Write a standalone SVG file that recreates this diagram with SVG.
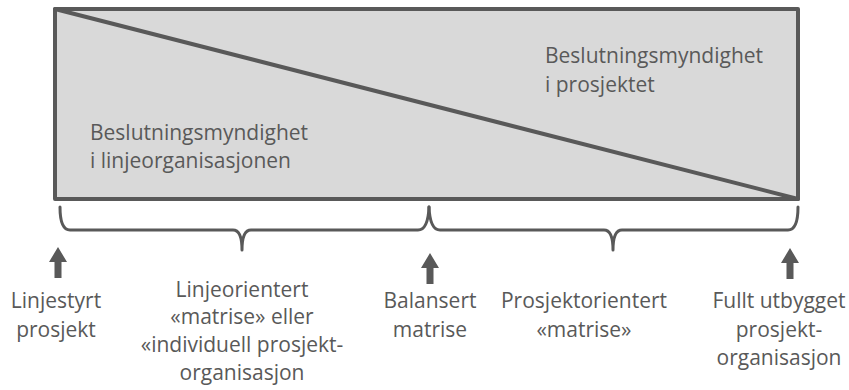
<svg xmlns="http://www.w3.org/2000/svg" width="849" height="390" viewBox="0 0 849 390">
  <defs>
    <style>
      .lbl { font-family: "Open Sans", "Liberation Sans", sans-serif; font-size: 21px; fill: #595959; }
      .mid { text-anchor: middle; }
      .frame { fill: #d9d9d9; stroke: #595959; stroke-width: 4; stroke-linejoin: round; }
      .line { fill: none; stroke: #595959; stroke-width: 4; stroke-linecap: round; }
      .brace { fill: none; stroke: #595959; stroke-width: 3; stroke-linecap: round; stroke-linejoin: round; }
      .arrow { fill: #595959; }
    </style>
    <path id="up-arrow" d="M0,0 L9,15 L3.5,15 L3.5,31 L-3.5,31 L-3.5,15 L-9,15 Z"/>
  </defs>
  <rect width="849" height="390" fill="#ffffff"/>

  <!-- authority split: box with diagonal -->
  <g id="authority-box">
    <rect class="frame" x="55" y="9" width="743" height="190"/>
    <line class="line" x1="55" y1="9" x2="798" y2="199"/>
    <text class="lbl" x="90" y="140">Beslutningsmyndighet</text>
    <text class="lbl" x="90" y="168">i linjeorganisasjonen</text>
    <text class="lbl" x="545" y="63">Beslutningsmyndighet</text>
    <text class="lbl" x="545" y="92">i prosjektet</text>
  </g>

  <!-- braces and arrows -->
  <g id="connectors">
    <path class="brace" d="M60,207 Q60,230 70,230 H233 Q242,230 242,250 Q242,230 251,230 H418 Q428,230 429,207"/>
    <path class="brace" d="M429,207 Q430,230 440,230 H604 Q613,230 613,250 Q613,230 622,230 H788 Q798,230 798,207"/>
    <use class="arrow" href="#up-arrow" x="58" y="247"/>
    <use class="arrow" href="#up-arrow" x="430" y="253"/>
    <use class="arrow" href="#up-arrow" x="790" y="248"/>
  </g>

  <g id="linjestyrt">
    <text class="lbl mid" x="56" y="308">Linjestyrt</text>
    <text class="lbl mid" x="56" y="337">prosjekt</text>
  </g>
  <g id="linjeorientert">
    <text class="lbl mid" x="242" y="297">Linjeorientert</text>
    <text class="lbl mid" x="242" y="324">«matrise» eller</text>
    <text class="lbl mid" x="242" y="352">«individuell prosjekt-</text>
    <text class="lbl mid" x="242" y="380">organisasjon</text>
  </g>
  <g id="balansert">
    <text class="lbl mid" x="430" y="308">Balansert</text>
    <text class="lbl mid" x="430" y="337">matrise</text>
  </g>
  <g id="prosjektorientert">
    <text class="lbl mid" x="584" y="308">Prosjektorientert</text>
    <text class="lbl mid" x="584" y="337">«matrise»</text>
  </g>
  <g id="fullt-utbygget">
    <text class="lbl mid" x="779" y="308">Fullt utbygget</text>
    <text class="lbl mid" x="779" y="337">prosjekt-</text>
    <text class="lbl mid" x="779" y="365">organisasjon</text>
  </g>
</svg>
